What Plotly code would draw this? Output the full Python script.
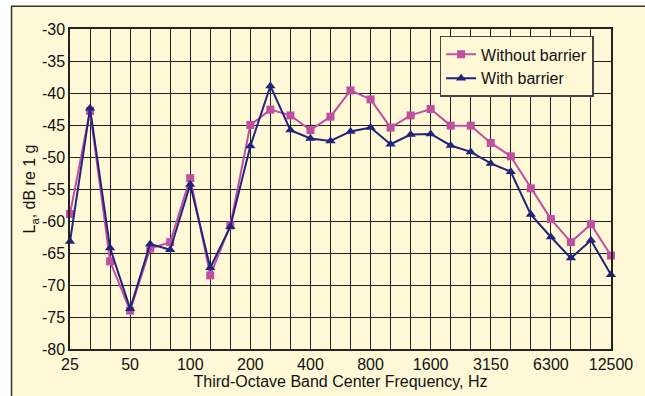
import plotly.graph_objects as go

bands = ["25", "31.5", "40", "50", "63", "80", "100", "125", "160", "200", "250", "315",
         "400", "500", "630", "800", "1000", "1250", "1600", "2000", "2500", "3150",
         "4000", "5000", "6300", "8000", "10000", "12500"]
labeled = ["25", "50", "100", "200", "400", "800", "1600", "3150", "6300", "12500"]
y_ticks = [-80, -75, -70, -65, -60, -55, -50, -45, -40, -35, -30]

without_barrier = [-58.9, -42.8, -66.3, -74.0, -64.3, -63.3, -53.3, -68.5, -60.7, -45.0,
                   -42.6, -43.5, -45.8, -43.7, -39.6, -41.0, -45.4, -43.5, -42.5, -45.1,
                   -45.1, -47.8, -49.9, -54.9, -59.7, -63.3, -60.5, -65.4]
with_barrier = [-63.2, -42.4, -64.2, -73.7, -63.6, -64.5, -54.3, -67.3, -60.9, -48.3,
                -38.9, -45.8, -47.1, -47.5, -46.0, -45.4, -48.0, -46.5, -46.4, -48.2,
                -49.2, -51.0, -52.3, -59.0, -62.5, -65.8, -63.0, -68.4]

PINK = "#C04FA2"
NAVY = "#22237A"
BG = "#FFF8D6"

fig = go.Figure()
fig.add_trace(go.Scatter(x=bands, y=without_barrier, mode="lines+markers", name="Without barrier",
                         line=dict(color=PINK, width=2), marker=dict(symbol="square", size=8, color=PINK),
                         cliponaxis=False))
fig.add_trace(go.Scatter(x=bands, y=with_barrier, mode="lines+markers", name="With barrier",
                         line=dict(color=NAVY, width=2), marker=dict(symbol="triangle-up", size=9, color=NAVY),
                         cliponaxis=False))

L, R, T, B = 70, 29, 29, 45
W, H = 645, 396
pw, ph = W - L - R, H - T - B

fig.add_shape(type="rect", xref="paper", yref="paper",
              x0=(11 - L) / pw, x1=(W + 20 - L) / pw,
              y0=-(H + 20 - (H - B)) / ph, y1=((H - B) - 6) / ph,
              fillcolor=BG, line=dict(color="#333333", width=1.5), layer="below")

fig.update_layout(
    width=W, height=H,
    margin=dict(l=L, r=R, t=T, b=B),
    paper_bgcolor="white", plot_bgcolor="white",
    font=dict(family="Liberation Sans, Arial, sans-serif", size=16, color="#111111"),
    legend=dict(x=(443 - L) / pw, y=((H - B) - 36) / ph, xanchor="left", yanchor="top",
                bgcolor=BG, bordercolor="#444444", borderwidth=1.5,
                font=dict(size=16), tracegroupgap=0, itemwidth=30),
    showlegend=True,
)
fig.update_xaxes(type="category", range=[0, len(bands) - 1],
                 tickmode="array", tickvals=bands,
                 ticktext=[b if b in labeled else "" for b in bands],
                 tickangle=0,
                 showgrid=True, gridcolor="#222222", gridwidth=1,
                 showline=True, linecolor="#222222", linewidth=1.5, mirror=True,
                 ticks="", tickfont=dict(size=16),
                 title=dict(text="Third-Octave Band Center Frequency, Hz", font=dict(size=16), standoff=0))
fig.update_yaxes(range=[-80, -30], tickmode="array", tickvals=y_ticks,
                 ticktext=[str(v) for v in y_ticks],
                 showgrid=True, gridcolor="#222222", gridwidth=1,
                 showline=True, linecolor="#222222", linewidth=1.5, mirror=True,
                 zeroline=False, ticks="", tickfont=dict(size=16),
                 title=dict(text="L<sub>a</sub>, dB re 1 g", font=dict(size=16), standoff=2))

fig.write_html("out.html")
